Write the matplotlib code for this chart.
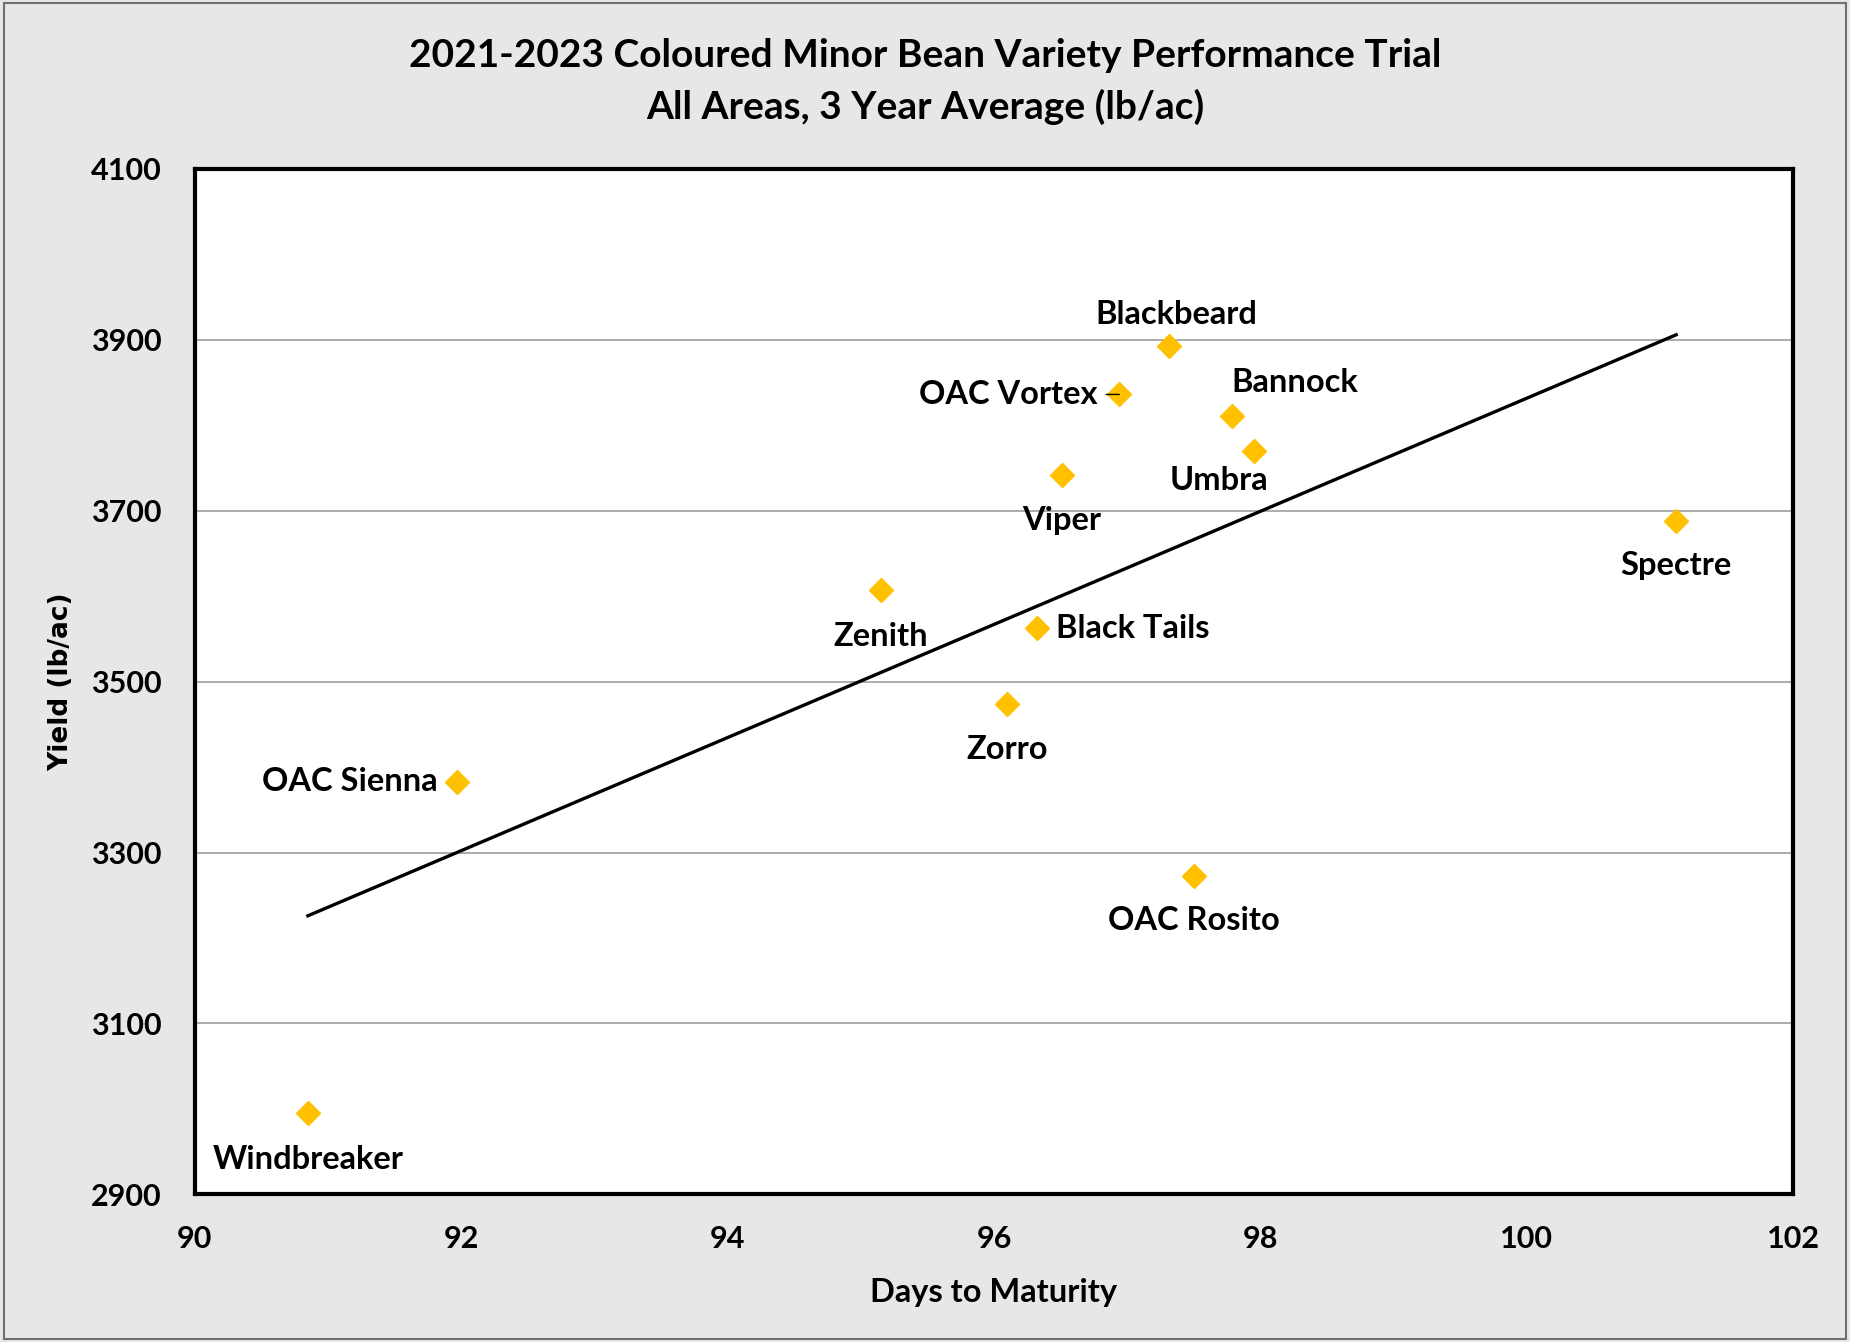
# coloured minor bean variety trial: yield vs days to maturity, with linear trendline

import matplotlib
matplotlib.use("Agg")
import matplotlib.pyplot as plt
import numpy as np

varieties = ["Blackbeard", "OAC Vortex", "Bannock", "Umbra", "Viper", "Spectre",
             "Zenith", "Black Tails", "Zorro", "OAC Sienna", "OAC Rosito", "Windbreaker"]
days = [97.31, 96.94, 97.79, 97.95, 96.51, 101.12, 95.15, 96.32, 96.10, 91.97, 97.50, 90.85]
yields = [3893, 3836, 3811, 3770, 3742, 3688, 3607, 3563, 3474, 3383, 3273, 2995]

x_ticks = [90, 92, 94, 96, 98, 100, 102]
y_ticks = [2900, 3100, 3300, 3500, 3700, 3900, 4100]

# label offsets in pixels (dx, dy, ha)
label_pos = {
    "Blackbeard": (8, 31, "center"),
    "OAC Vortex": (-22, 0, "right"),
    "Bannock": (62, 33, "center"),
    "Umbra": (-35, -30, "center"),
    "Viper": (0, -46, "center"),
    "Spectre": (0, -45, "center"),
    "Zenith": (0, -46, "center"),
    "Black Tails": (19, -1, "left"),
    "Zorro": (0, -46, "center"),
    "OAC Sienna": (-19, 0, "right"),
    "OAC Rosito": (0, -45, "center"),
    "Windbreaker": (0, -46, "center"),
}

FONT = ["Lato", "DejaVu Sans"]
plt.rcParams["font.family"] = FONT
plt.rcParams["font.weight"] = "bold"

fig = plt.figure(figsize=(18.5, 13.42), dpi=100, facecolor="#e7e7e7")
fig.patches.append(plt.Rectangle((0.002, 0.002), 0.996, 0.996, transform=fig.transFigure,
                                 fill=False, edgecolor="#707070", linewidth=1.5))

ax = fig.add_axes([0.1052, 0.110, 0.8642, 0.7642])
ax.set_facecolor("white")

ax.set_xlim(90, 102)
ax.set_ylim(2900, 4100)
ax.set_xticks(x_ticks)
ax.set_yticks(y_ticks)
ax.grid(axis="y", color="#a6a6a6", linewidth=1.3)
ax.set_axisbelow(True)
ax.tick_params(length=0, labelsize=22, pad=0)
ax.tick_params(axis="y", pad=24)
ax.tick_params(axis="x", pad=22)
for sp in ax.spines.values():
    sp.set_linewidth(3)
    sp.set_color("black")

# trendline
m, b = np.polyfit(days, yields, 1)
xs = np.array([min(days), max(days)])
ax.plot(xs, m * xs + b, color="black", linewidth=2.4, zorder=2)

ax.plot(days, yields, linestyle="none", marker="D", markersize=12,
        color="#ffc000", zorder=3)

for name, x, y in zip(varieties, days, yields):
    dx, dy, ha = label_pos[name]
    ax.annotate(name, (x, y), xytext=(dx, dy), textcoords="offset pixels",
                ha=ha, va="center", fontsize=23.5, fontweight="bold", zorder=4)

# short leader line for OAC Vortex
i = varieties.index("OAC Vortex")
ax.annotate("", (days[i], yields[i]), xytext=(-13, 0), textcoords="offset pixels",
            arrowprops=dict(arrowstyle="-", color="black", lw=1, shrinkA=0, shrinkB=0), zorder=4)

ax.set_xlabel("Days to Maturity", fontsize=23.5, fontweight="bold", labelpad=18)
ax.set_ylabel("Yield (lb/ac)", fontsize=19, fontweight="bold",
              family=["DejaVu Sans"], labelpad=12)

fig.text(0.5, 0.959, "2021-2023 Coloured Minor Bean Variety Performance Trial",
         ha="center", va="center", fontsize=28, fontweight="bold")
fig.text(0.5, 0.920, "All Areas, 3 Year Average (lb/ac)",
         ha="center", va="center", fontsize=28, fontweight="bold")

fig.savefig("out.png", dpi=100, facecolor=fig.get_facecolor())
